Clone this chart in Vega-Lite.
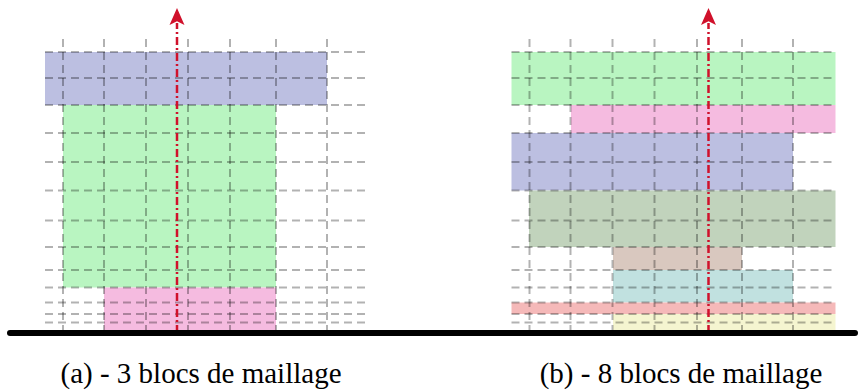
{
  "$schema": "https://vega.github.io/schema/vega-lite/v6.json",
  "width": 858,
  "height": 392,
  "autosize": {"type": "fit", "contains": "padding"},
  "padding": 0,
  "background": "white",
  "config": {"view": {"stroke": null}},
  "datasets": {
    "blocks": [
      {"panel": "a", "x": 45, "x2": 327, "y": 228, "y2": 281, "c": "#bcbfe1"},
      {"panel": "a", "x": 63, "x2": 276, "y": 45.5, "y2": 228, "c": "#b9f5c1"},
      {"panel": "a", "x": 104, "x2": 276, "y": 0, "y2": 45.5, "c": "#f5bbe0"},
      {"panel": "b", "x": 511.5, "x2": 835.5, "y": 228, "y2": 281, "c": "#b9f5c1"},
      {"panel": "b", "x": 571, "x2": 835.5, "y": 200, "y2": 228, "c": "#f5bbe0"},
      {"panel": "b", "x": 511.5, "x2": 793, "y": 142.5, "y2": 200, "c": "#bcbfe1"},
      {"panel": "b", "x": 529, "x2": 835.5, "y": 86, "y2": 142.5, "c": "#c1d3bc"},
      {"panel": "b", "x": 613, "x2": 742, "y": 63, "y2": 86, "c": "#d9c8bf"},
      {"panel": "b", "x": 613, "x2": 793, "y": 30.5, "y2": 63, "c": "#c1e1e0"},
      {"panel": "b", "x": 511.5, "x2": 835.5, "y": 19, "y2": 30.5, "c": "#f5b9b9"},
      {"panel": "b", "x": 613, "x2": 835.5, "y": 0, "y2": 19, "c": "#f5f5d0"}
    ],
    "grid": [
      {"x": 45, "x2": 369, "y": 281, "y2": 281},
      {"x": 45, "x2": 369, "y": 255, "y2": 255},
      {"x": 45, "x2": 369, "y": 228, "y2": 228},
      {"x": 45, "x2": 369, "y": 200, "y2": 200},
      {"x": 45, "x2": 369, "y": 171, "y2": 171},
      {"x": 45, "x2": 369, "y": 142.5, "y2": 142.5},
      {"x": 45, "x2": 369, "y": 112.5, "y2": 112.5},
      {"x": 45, "x2": 369, "y": 86, "y2": 86},
      {"x": 45, "x2": 369, "y": 63, "y2": 63},
      {"x": 45, "x2": 369, "y": 45.5, "y2": 45.5},
      {"x": 45, "x2": 369, "y": 30.5, "y2": 30.5},
      {"x": 45, "x2": 369, "y": 19, "y2": 19},
      {"x": 45, "x2": 369, "y": 10.5, "y2": 10.5},
      {"x": 63, "x2": 63, "y": 0, "y2": 295},
      {"x": 104, "x2": 104, "y": 0, "y2": 295},
      {"x": 146, "x2": 146, "y": 0, "y2": 295},
      {"x": 188, "x2": 188, "y": 0, "y2": 295},
      {"x": 230, "x2": 230, "y": 0, "y2": 295},
      {"x": 276, "x2": 276, "y": 0, "y2": 295},
      {"x": 327, "x2": 327, "y": 0, "y2": 295},
      {"x": 511.5, "x2": 835.5, "y": 281, "y2": 281},
      {"x": 511.5, "x2": 835.5, "y": 255, "y2": 255},
      {"x": 511.5, "x2": 835.5, "y": 228, "y2": 228},
      {"x": 511.5, "x2": 835.5, "y": 200, "y2": 200},
      {"x": 511.5, "x2": 835.5, "y": 171, "y2": 171},
      {"x": 511.5, "x2": 835.5, "y": 142.5, "y2": 142.5},
      {"x": 511.5, "x2": 835.5, "y": 112.5, "y2": 112.5},
      {"x": 511.5, "x2": 835.5, "y": 86, "y2": 86},
      {"x": 511.5, "x2": 835.5, "y": 63, "y2": 63},
      {"x": 511.5, "x2": 835.5, "y": 45.5, "y2": 45.5},
      {"x": 511.5, "x2": 835.5, "y": 30.5, "y2": 30.5},
      {"x": 511.5, "x2": 835.5, "y": 19, "y2": 19},
      {"x": 511.5, "x2": 835.5, "y": 10.5, "y2": 10.5},
      {"x": 529.5, "x2": 529.5, "y": 0, "y2": 295},
      {"x": 570.5, "x2": 570.5, "y": 0, "y2": 295},
      {"x": 612.5, "x2": 612.5, "y": 0, "y2": 295},
      {"x": 654.5, "x2": 654.5, "y": 0, "y2": 295},
      {"x": 697, "x2": 697, "y": 0, "y2": 295},
      {"x": 742, "x2": 742, "y": 0, "y2": 295},
      {"x": 793, "x2": 793, "y": 0, "y2": 295}
    ],
    "arrows": [
      {"x": 177, "y": 0, "y2": 310, "tip": 316.5},
      {"x": 708.5, "y": 0, "y2": 310, "tip": 316.5}
    ],
    "ground": [{"x": 10, "x2": 855, "y": 0}],
    "captions": [
      {"x": 201, "y": -50, "label": "(a) - 3 blocs de maillage"},
      {"x": 681, "y": -50, "label": "(b) - 8 blocs de maillage"}
    ]
  },
  "layer": [
    {
      "data": {"name": "blocks"},
      "mark": {"type": "rect"},
      "encoding": {
        "x": {"field": "x", "type": "quantitative", "scale": {"domain": [0, 858], "nice": false, "zero": false}, "axis": null},
        "x2": {"field": "x2"},
        "y": {"field": "y", "type": "quantitative", "scale": {"domain": [-59, 333], "nice": false, "zero": false}, "axis": null},
        "y2": {"field": "y2"},
        "color": {"field": "c", "type": "nominal", "scale": null, "legend": null}
      }
    },
    {
      "data": {"name": "grid"},
      "mark": {"type": "rule", "stroke": "#000000", "strokeOpacity": 0.3, "strokeWidth": 2, "strokeDash": [8, 5]},
      "encoding": {
        "x": {"field": "x", "type": "quantitative"},
        "x2": {"field": "x2"},
        "y": {"field": "y", "type": "quantitative"},
        "y2": {"field": "y2"}
      }
    },
    {
      "data": {"name": "arrows"},
      "mark": {"type": "rule", "stroke": "#d0112b", "strokeWidth": 2.5, "strokeDash": [8, 3, 2, 3]},
      "encoding": {
        "x": {"field": "x", "type": "quantitative"},
        "y": {"field": "y", "type": "quantitative"},
        "y2": {"field": "y2"}
      }
    },
    {
      "data": {"name": "arrows"},
      "mark": {"type": "point", "filled": true, "color": "#d0112b", "opacity": 1, "size": 289, "shape": "M0,-1 L0.88,1 L0,0.55 L-0.88,1 Z"},
      "encoding": {
        "x": {"field": "x", "type": "quantitative"},
        "y": {"field": "tip", "type": "quantitative"}
      }
    },
    {
      "data": {"name": "ground"},
      "mark": {"type": "rule", "stroke": "#000000", "strokeWidth": 6, "strokeCap": "round"},
      "encoding": {
        "x": {"field": "x", "type": "quantitative"},
        "x2": {"field": "x2"},
        "y": {"field": "y", "type": "quantitative"}
      }
    },
    {
      "data": {"name": "captions"},
      "mark": {"type": "text", "font": "Liberation Serif", "fontSize": 29, "color": "#000000", "align": "center", "baseline": "alphabetic"},
      "encoding": {
        "x": {"field": "x", "type": "quantitative"},
        "y": {"field": "y", "type": "quantitative"},
        "text": {"field": "label", "type": "nominal"}
      }
    }
  ]
}
